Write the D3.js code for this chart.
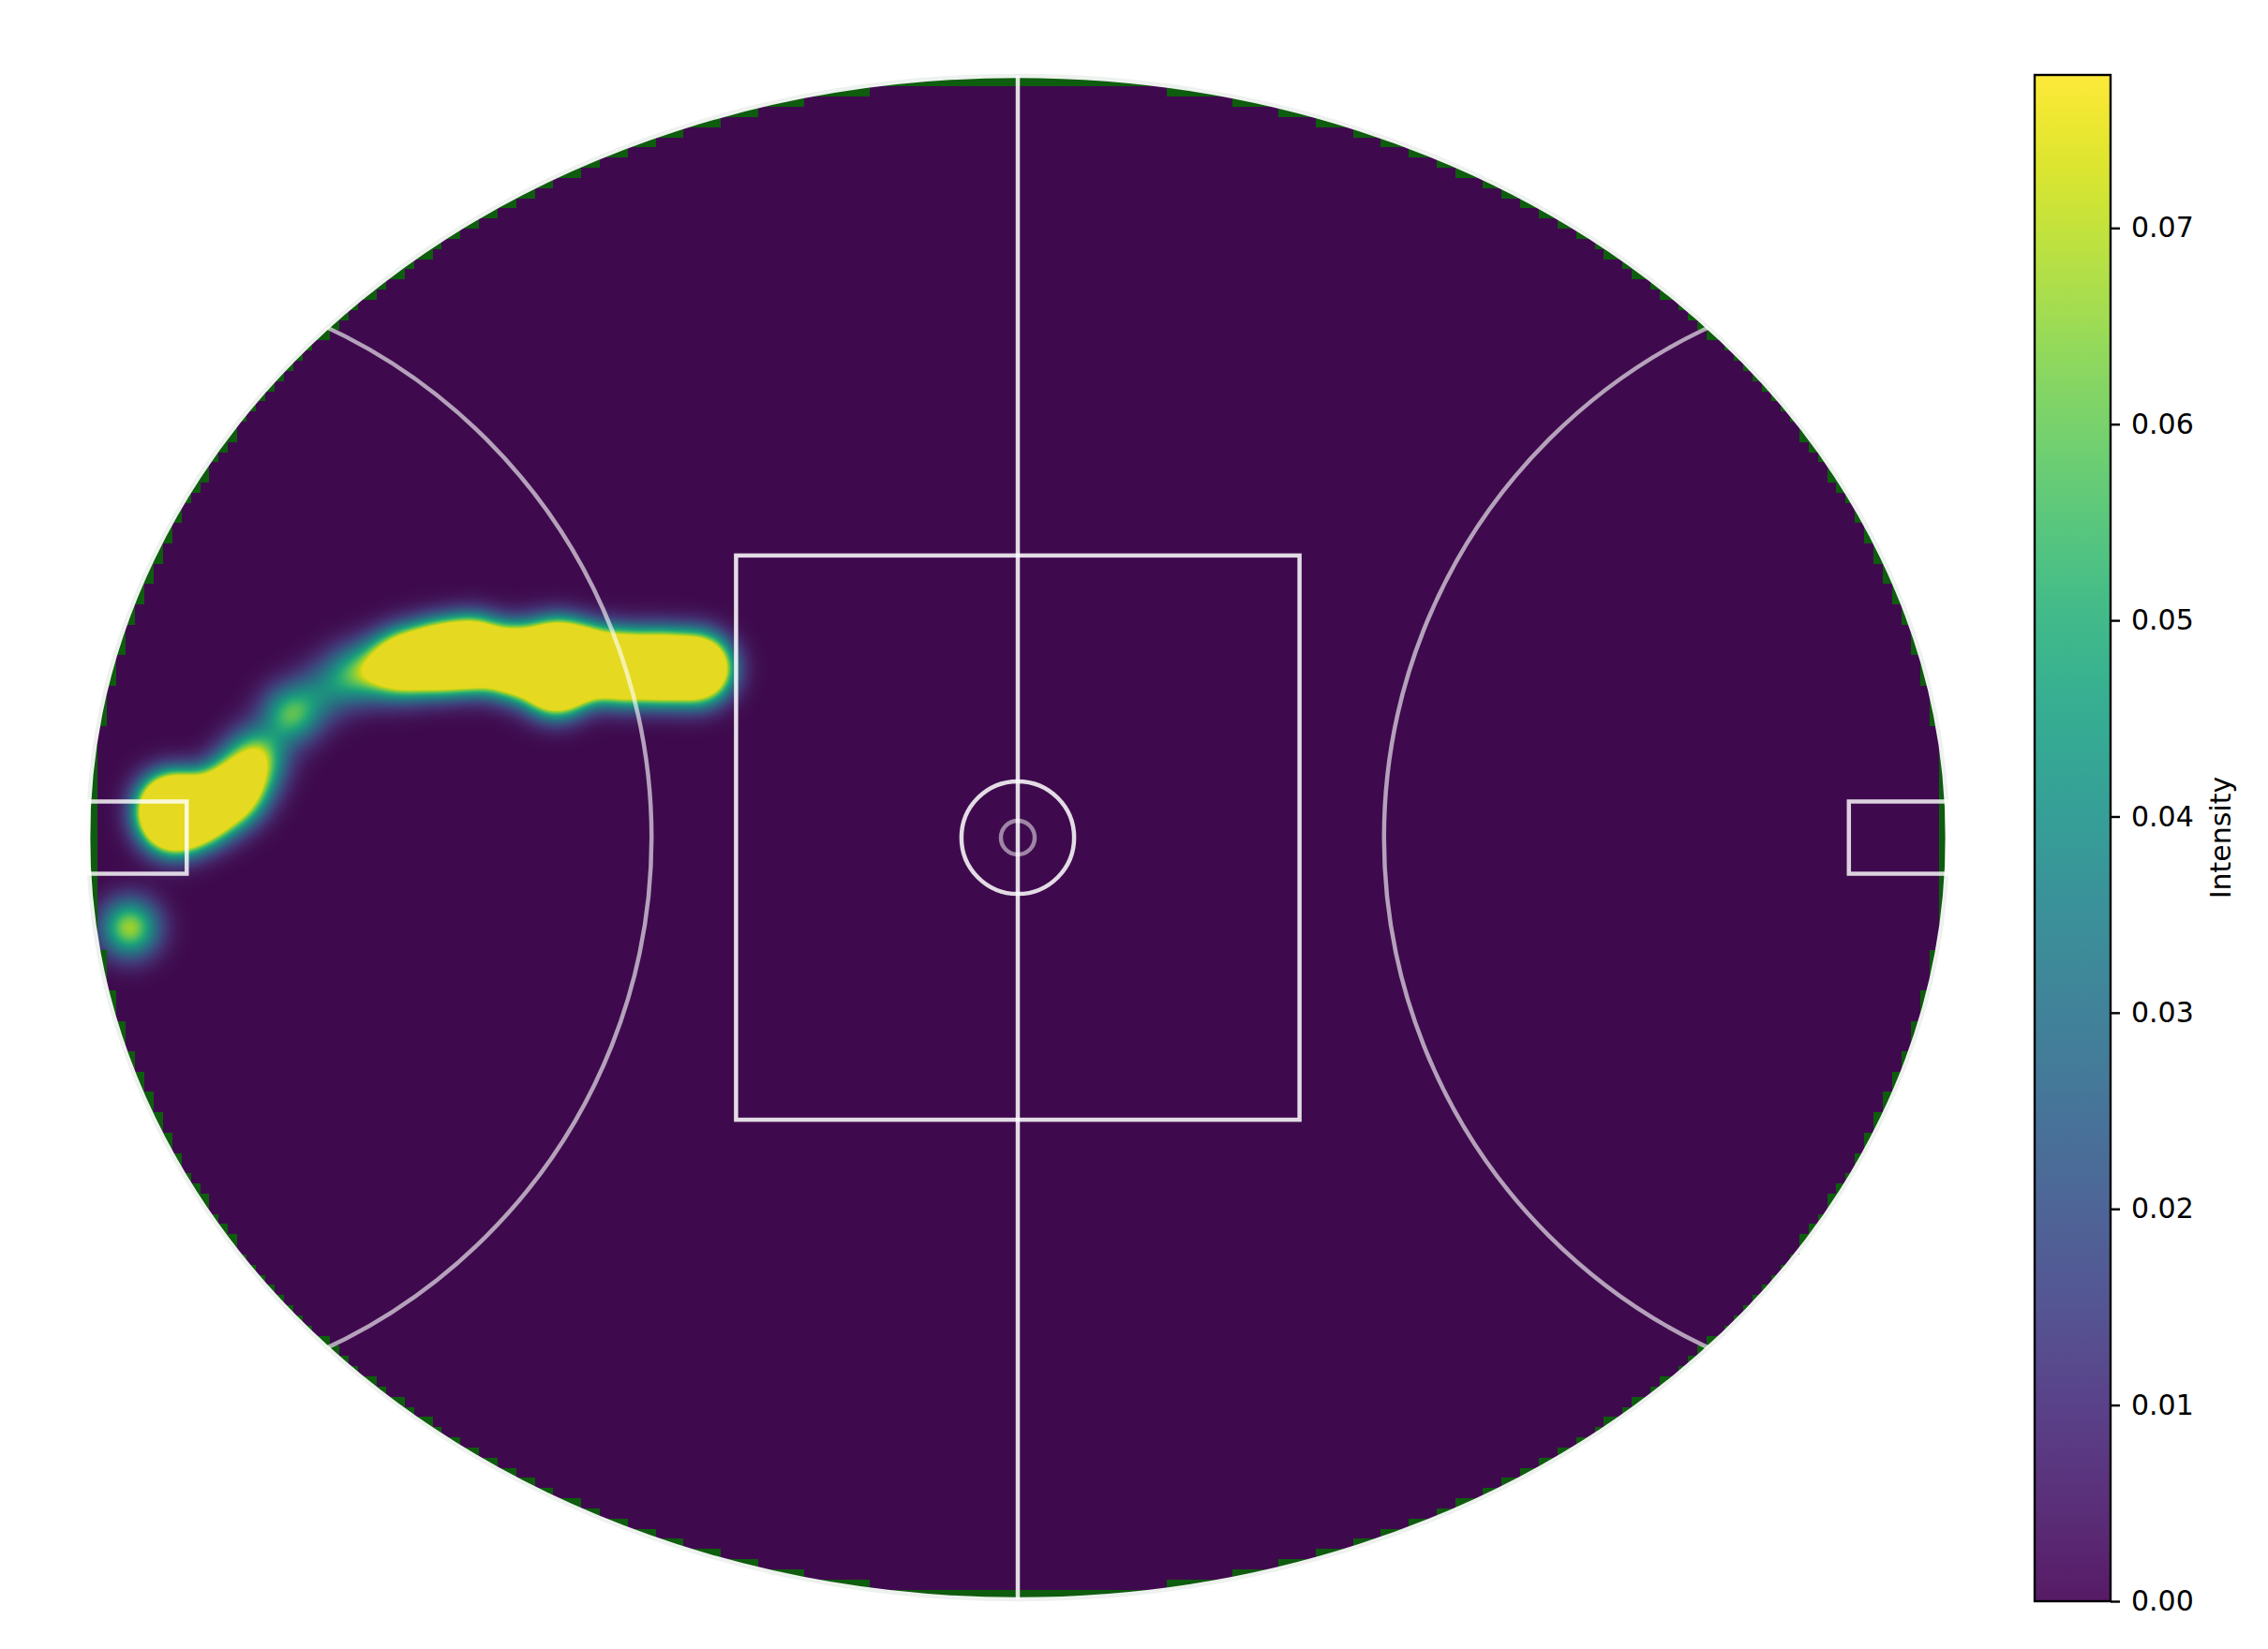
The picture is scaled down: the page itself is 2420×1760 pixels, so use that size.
<!DOCTYPE html>
<html>
<head>
<meta charset="utf-8">
<script src="https://cdn.jsdelivr.net/npm/d3@7"></script>
<style>
body { margin: 0; background: #fff; }
svg { display: block; font-family: 'DejaVu Sans', sans-serif; }
</style>
</head>
<body>
<svg id="chart" width="2420" height="1760"></svg>
<script>
// field geometry (metres)
var fieldLength = 165, fieldWidth = 135;
var centreSquare = 50, centreCircleR = 5, centreDotR = 1.5, arcR = 50;
var goalSquareDepth = 8.75, goalSquareWidth = 6.4;

// events: x,y in metres from centre (y up), weight
var eventX = [-28.4, -31.7, -35.0, -38.3, -41.0, -41.0, -44.6, -48.3, -51.2, -54.1, -56.4, -59.2, -61.9, -64.5, -67.4, -68.5, -69.9, -72.4, -75.1, -74.9, -78.8];
var eventY = [15.0, 15.1, 15.1, 15.5, 16.1, 13.8, 15.6, 16.3, 16.0, 15.6, 15.0, 14.4, 12.8, 10.9, 7.4, 5.5, 3.8, 2.4, 2.8, 1.3, -8.0];
var eventW = [3.5, 3.5, 3.5, 3.5, 4.0, 3.0, 3.5, 3.8, 3.3, 2.2, 0.9, 0.6, 0.35, 0.8, 0.75, 0.95, 1.9, 2.5, 3.0, 2.2, 1.0];

var bandwidth = 1.7;           // kernel sigma, metres
var intensityPerEvent = 0.068; // peak intensity of one event
var intensityMax = 0.0778;
var intensityTicks = [0, 0.01, 0.02, 0.03, 0.04, 0.05, 0.06, 0.07];
var gridNx = 200, gridNy = 150;

var svg = d3.select('#chart');

var xs = d3.scaleLinear().domain([-fieldLength / 2, fieldLength / 2]).range([94, 2078]);
var ys = d3.scaleLinear().domain([-fieldWidth / 2, fieldWidth / 2]).range([1707, 81]);
var color = d3.scaleSequential(d3.interpolateViridis).domain([0, intensityMax]);

var cx = xs(0), cy = ys(0);
var rx = xs(fieldLength / 2) - cx, ry = cy - ys(fieldWidth / 2);

var defs = svg.append('defs');
defs.append('clipPath').attr('id', 'oval')
  .append('ellipse')
  .attr('cx', cx).attr('cy', cy).attr('rx', rx).attr('ry', ry);

// green field underneath
svg.append('ellipse')
  .attr('cx', cx).attr('cy', cy).attr('rx', rx).attr('ry', ry)
  .attr('fill', '#0e5c0e');

// heat map on a 200x150 grid: the mask is tested at the grid nodes
// (edges included), the cells are drawn across the field's box
var x0 = Math.round(xs(-fieldLength / 2)), x1 = Math.round(xs(fieldLength / 2));
var y0 = Math.round(ys(fieldWidth / 2)), y1 = Math.round(ys(-fieldWidth / 2));
var W = x1 - x0, H = y1 - y0;
var canvas = document.createElement('canvas');
canvas.width = W; canvas.height = H;
var ctx = canvas.getContext('2d');
var img = ctx.createImageData(W, H);
var a = fieldLength / 2, b = fieldWidth / 2;
var twoS2 = 2 * bandwidth * bandwidth;
for (var py = 0; py < H; py++) {
  var ym = ys.invert(y0 + py + 0.5);
  var j = Math.min(gridNy - 1, Math.floor(py / H * gridNy));
  var ynode = b - j * 2 * b / (gridNy - 1);
  for (var px = 0; px < W; px++) {
    var i = Math.min(gridNx - 1, Math.floor(px / W * gridNx));
    var xnode = -a + i * 2 * a / (gridNx - 1);
    if ((xnode / a) * (xnode / a) + (ynode / b) * (ynode / b) > 1) continue;
    var xm = xs.invert(x0 + px + 0.5);
    var dens = 0;
    for (var k = 0; k < eventX.length; k++) {
      var ddx = xm - eventX[k], ddy = ym - eventY[k];
      var r2 = ddx * ddx + ddy * ddy;
      if (r2 < 100) dens += eventW[k] * Math.exp(-r2 / twoS2);
    }
    var v = Math.min(intensityMax, dens * intensityPerEvent);
    var c = d3.rgb(color(v));
    var o = (py * W + px) * 4;
    img.data[o] = c.r; img.data[o + 1] = c.g; img.data[o + 2] = c.b; img.data[o + 3] = 230;
  }
}
ctx.putImageData(img, 0, 0);
svg.append('image')
  .attr('x', x0).attr('y', y0).attr('width', W).attr('height', H)
  .attr('href', canvas.toDataURL());

// boundary
svg.append('ellipse')
  .attr('cx', cx).attr('cy', cy).attr('rx', rx).attr('ry', ry)
  .attr('fill', 'none').attr('stroke', '#eef2ee').attr('stroke-width', 4.5);

var lines = svg.append('g').attr('fill', 'none').attr('stroke', '#fff').attr('stroke-width', 4.5);
var k = xs(1) - xs(0);

// 50m arcs
lines.append('g').attr('clip-path', 'url(#oval)')
  .selectAll('circle').data([-fieldLength / 2, fieldLength / 2]).enter()
  .append('circle')
    .attr('cx', function(d) { return xs(d); })
    .attr('cy', cy)
    .attr('r', arcR * k)
    .attr('stroke-opacity', 0.62);

// centre line
lines.append('line')
  .attr('x1', cx).attr('x2', cx)
  .attr('y1', ys(fieldWidth / 2)).attr('y2', ys(-fieldWidth / 2))
  .attr('stroke-opacity', 0.86);

// centre square
lines.append('rect')
  .attr('x', xs(-centreSquare / 2)).attr('y', ys(centreSquare / 2))
  .attr('width', xs(centreSquare / 2) - xs(-centreSquare / 2))
  .attr('height', ys(-centreSquare / 2) - ys(centreSquare / 2))
  .attr('stroke-opacity', 0.86);

// centre circles
lines.append('circle').attr('cx', cx).attr('cy', cy).attr('r', centreCircleR * k).attr('stroke-opacity', 0.86);
lines.append('circle').attr('cx', cx).attr('cy', cy).attr('r', centreDotR * k).attr('stroke-opacity', 0.5);

// goal squares
lines.selectAll('rect.goal').data([-1, 1]).enter()
  .append('rect').attr('class', 'goal')
    .attr('x', function(d) { return d < 0 ? xs(-fieldLength / 2) : xs(fieldLength / 2 - goalSquareDepth); })
    .attr('y', ys(goalSquareWidth / 2))
    .attr('width', goalSquareDepth * k)
    .attr('height', ys(-goalSquareWidth / 2) - ys(goalSquareWidth / 2))
    .attr('stroke-opacity', 0.82);

// colorbar
var cbX = 2171, cbW = 81;
var cbScale = d3.scaleLinear().domain([0, intensityMax]).range([1709, 80]);
var grad = defs.append('linearGradient')
  .attr('id', 'cbgrad').attr('x1', 0).attr('y1', 1).attr('x2', 0).attr('y2', 0);
grad.selectAll('stop').data(d3.range(0, 1.0001, 0.02)).enter()
  .append('stop')
    .attr('offset', function(d) { return d; })
    .attr('stop-color', function(d) { return d3.interpolateViridis(d); })
    .attr('stop-opacity', 0.9);
svg.append('rect')
  .attr('x', cbX).attr('y', cbScale(intensityMax))
  .attr('width', cbW).attr('height', cbScale(0) - cbScale(intensityMax))
  .attr('fill', 'url(#cbgrad)');

var axis = svg.append('g')
  .attr('transform', 'translate(' + (cbX + cbW) + ',0)')
  .call(d3.axisRight(cbScale).tickValues(intensityTicks).tickFormat(d3.format('.2f')).tickSize(10).tickPadding(12));
axis.select('.domain').remove();
axis.selectAll('line').attr('stroke', '#000').attr('stroke-width', 2.4);
axis.selectAll('text').attr('font-size', 30).attr('font-family', 'DejaVu Sans').attr('fill', '#000');

svg.append('rect')
  .attr('x', cbX).attr('y', cbScale(intensityMax))
  .attr('width', cbW).attr('height', cbScale(0) - cbScale(intensityMax))
  .attr('fill', 'none').attr('stroke', '#000').attr('stroke-width', 2.4);

svg.append('text')
  .attr('transform', 'translate(2369,' + cy + ') rotate(-90)')
  .attr('text-anchor', 'middle').attr('dy', '0.35em')
  .attr('font-size', 30)
  .text('Intensity');
</script>
</body>
</html>
